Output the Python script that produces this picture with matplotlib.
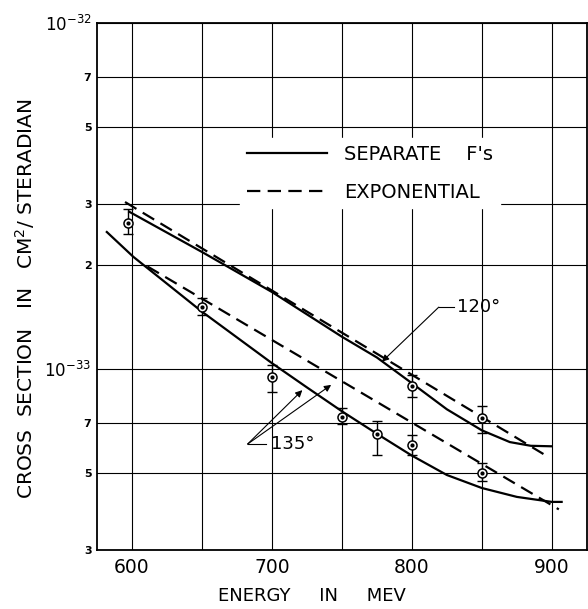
import matplotlib
matplotlib.use('Agg')
import matplotlib.pyplot as plt
from matplotlib.ticker import FixedLocator, NullLocator

# ---- data (cross sections in units of 1e-33 cm^2/sr) ----
# 120 deg, separate F's (solid)
e_sep_120 = [598, 650, 700, 750, 775, 800, 825, 850, 870, 885, 900]
s_sep_120 = [2.85, 2.18, 1.67, 1.24, 1.08, 0.91, 0.765, 0.665, 0.615, 0.60, 0.598]
# 135 deg, separate F's (solid)
e_sep_135 = [582, 601, 650, 700, 725, 750, 775, 800, 825, 850, 875, 900, 907]
s_sep_135 = [2.49, 2.11, 1.465, 1.04, 0.885, 0.755, 0.65, 0.562, 0.494, 0.453, 0.427, 0.413, 0.413]
# exponential fits (dashed)
e_exp_120 = [595, 894]
s_exp_120 = [3.04, 0.568]
e_exp_135 = [611, 905]
s_exp_135 = [1.98, 0.393]

# measured points
e_pts_120 = [597, 800, 850]
s_pts_120 = [2.64, 0.893, 0.721]
lo_pts_120 = [2.45, 0.83, 0.653]
hi_pts_120 = [2.90, 0.96, 0.782]

e_pts_135 = [650, 700, 750, 775, 800, 850]
s_pts_135 = [1.51, 0.95, 0.726, 0.649, 0.603, 0.50]
lo_pts_135 = [1.43, 0.86, 0.693, 0.564, 0.564, 0.474]
hi_pts_135 = [1.60, 1.03, 0.77, 0.708, 0.644, 0.534]

x_grid = [600, 650, 700, 750, 800, 850, 900]
x_labels = ['600', '', '700', '', '800', '', '900']
y_ticks = [3e-34, 5e-34, 7e-34, 1e-33, 2e-33, 3e-33, 5e-33, 7e-33, 1e-32]
y_labels = ['3', '5', '7', r'$10^{-33}$', '2', '3', '5', '7', r'$10^{-32}$']

SC = 1e-33


def scale(vals):
    return [v * SC for v in vals]


fig = plt.figure(figsize=(5.88, 6.09), dpi=100)
ax = fig.add_axes([0.165, 0.097, 0.833, 0.865])

lw = 1.6
dash = (6, 3.3)
ax.plot(e_sep_120, scale(s_sep_120), color='black', lw=lw, zorder=3, label="SEPARATE    F's")
ax.plot(e_sep_135, scale(s_sep_135), color='black', lw=lw, zorder=3)
ax.plot(e_exp_120, scale(s_exp_120), color='black', lw=lw, ls=(0, dash), zorder=3, label='EXPONENTIAL')
ax.plot(e_exp_135, scale(s_exp_135), color='black', lw=lw, ls=(0, dash), zorder=3)

for e, s, lo, hi in [(e_pts_120, s_pts_120, lo_pts_120, hi_pts_120),
                     (e_pts_135, s_pts_135, lo_pts_135, hi_pts_135)]:
    yerr = [[(a - b) * SC for a, b in zip(s, lo)], [(b - a) * SC for a, b in zip(s, hi)]]
    ax.errorbar(e, scale(s), yerr=yerr, fmt='none', ecolor='black', elinewidth=1.0,
                capsize=3.6, capthick=1.0, zorder=4)
    ax.plot(e, scale(s), 'o', ms=6.5, mfc='white', mec='black', mew=1.1, zorder=5)
    ax.plot(e, scale(s), 'o', ms=2.0, color='black', zorder=6)

ax.set_yscale('log')
ax.set_xlim(575, 925)
ax.set_ylim(3e-34, 1e-32)

ax.xaxis.set_major_locator(FixedLocator(x_grid))
ax.set_xticklabels(x_labels)
ax.yaxis.set_major_locator(FixedLocator(y_ticks))
ax.yaxis.set_minor_locator(NullLocator())
ax.set_yticklabels(y_labels)
for t in ax.get_yticklabels():
    if '10' in t.get_text():
        t.set_fontsize(12)
    else:
        t.set_fontsize(8)
        t.set_fontweight('bold')
ax.tick_params(axis='both', length=0)
ax.tick_params(axis='x', labelsize=13.5, pad=6)
ax.tick_params(axis='y', pad=4)
ax.grid(True, color='black', lw=0.8)
ax.set_axisbelow(True)
for sp in ax.spines.values():
    sp.set_linewidth(1.3)

leg = ax.legend(loc='center', bbox_to_anchor=(0.557, 0.715), fontsize=14,
                handlelength=4.15, handletextpad=0.85, labelspacing=0.95,
                frameon=True, fancybox=False, framealpha=1, facecolor='white',
                edgecolor='white', borderpad=0.35)
leg.set_zorder(2.5)

# angle annotations
arrow_kw = dict(arrowstyle='-|>', color='black', lw=0.8, shrinkA=0, shrinkB=0,
                mutation_scale=10)
ax.annotate('', xy=(778.6, 1.05e-33), xytext=(819.2, 1.51e-33), arrowprops=arrow_kw)
ax.plot([819.2, 830], [1.51e-33, 1.51e-33], color='black', lw=0.8)
ax.text(832, 1.51e-33, '120°', fontsize=13, va='center', ha='left')

ax.annotate('', xy=(721.7, 8.69e-34), xytext=(682.6, 6.07e-34), arrowprops=arrow_kw)
ax.annotate('', xy=(742.3, 9.0e-34), xytext=(682.6, 6.07e-34), arrowprops=arrow_kw)
ax.plot([682.6, 696], [6.07e-34, 6.07e-34], color='black', lw=0.8)
ax.text(699, 6.07e-34, '135°', fontsize=13, va='center', ha='left')

fig.text(0.531, 0.021, 'ENERGY     IN     MEV', fontsize=13, ha='center', va='center')
fig.text(0.0425, 0.51, r'CROSS  SECTION   IN   CM$^2$/ STERADIAN', fontsize=14.5,
         rotation=90, ha='center', va='center')

fig.savefig('out.png', dpi=100)
